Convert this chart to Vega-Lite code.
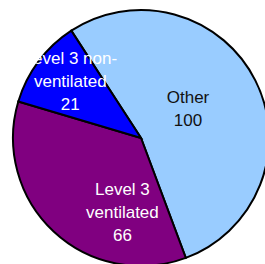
{
  "$schema": "https://vega.github.io/schema/vega-lite/v6.json",
  "width": 256,
  "height": 256,
  "padding": {"left": 9, "top": 6, "right": 0, "bottom": 0},
  "background": "white",
  "config": {"view": {"stroke": null}},
  "data": {
    "values": [
      {"category": "Other", "value": 100, "order": 1, "label": "Other|100"},
      {"category": "Level 3 ventilated", "value": 66, "order": 2, "label": "Level 3|ventilated|66"},
      {"category": "Level 3 non-ventilated", "value": 21, "order": 3, "label": "Level 3 non-|ventilated|21"}
    ]
  },
  "encoding": {
    "theta": {"field": "value", "type": "quantitative", "stack": true, "scale": {"range": [-0.576, 5.7072]}},
    "order": {"field": "order", "type": "quantitative"}
  },
  "layer": [
    {
      "mark": {"type": "arc", "stroke": "black", "strokeWidth": 2},
      "encoding": {
        "color": {
          "field": "category",
          "type": "nominal",
          "scale": {"domain": ["Other", "Level 3 ventilated", "Level 3 non-ventilated"], "range": ["#99CCFF", "#800080", "#0000FF"]},
          "legend": null
        }
      }
    },
    {
      "mark": {"type": "text", "radius": 56, "dx": -3, "dy": -15, "font": "Liberation Sans", "fontSize": 17, "lineBreak": "|", "lineHeight": 23, "color": "#111111", "baseline": "middle"},
      "encoding": {"text": {"field": "label", "condition": {"test": "datum.category !== 'Other'", "value": ""}}}
    },
    {
      "mark": {"type": "text", "radius": 80, "dx": 36, "dy": -6, "font": "Liberation Sans", "fontSize": 17, "lineBreak": "|", "lineHeight": 23, "color": "white", "baseline": "middle"},
      "encoding": {"text": {"field": "label", "condition": {"test": "datum.category !== 'Level 3 ventilated'", "value": ""}}}
    },
    {
      "mark": {"type": "text", "radius": 87, "dx": -1, "dy": -27, "font": "Liberation Sans", "fontSize": 17, "lineBreak": "|", "lineHeight": 23, "color": "white", "baseline": "middle"},
      "encoding": {"text": {"field": "label", "condition": {"test": "datum.category !== 'Level 3 non-ventilated'", "value": ""}}}
    }
  ]
}
